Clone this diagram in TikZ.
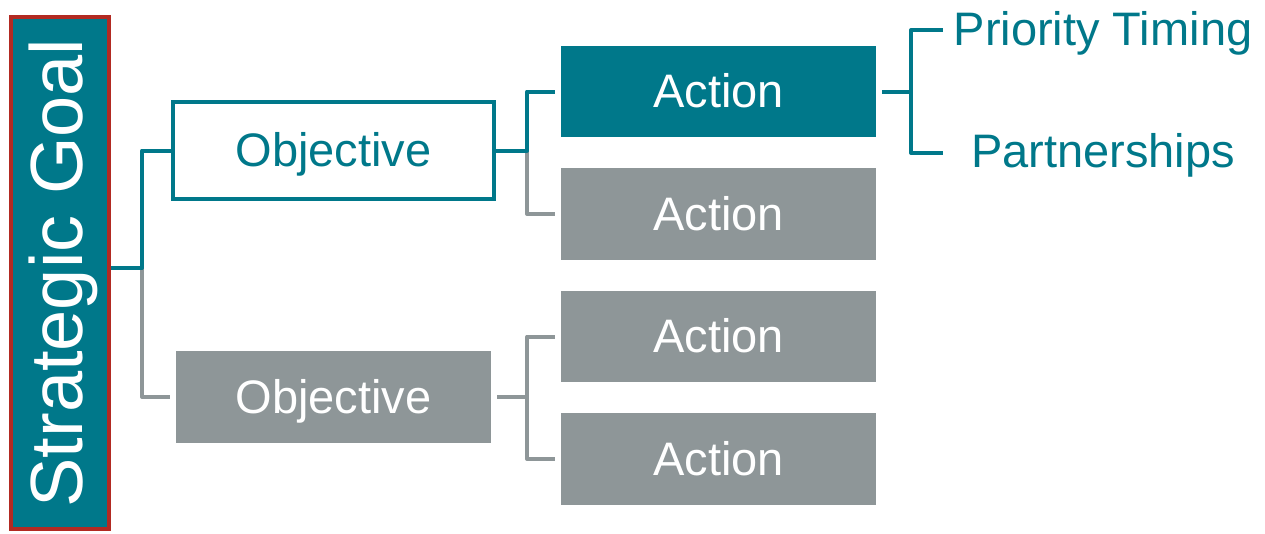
\documentclass[tikz,border=0pt]{standalone}
\usepackage{fontspec}
\setmainfont{Liberation Sans}
\definecolor{goalteal}{RGB}{0,120,138}
\definecolor{boxgray}{RGB}{142,150,152}
\definecolor{goalred}{RGB}{178,42,34}
\begin{document}
\begin{tikzpicture}[x=1pt,y=-1pt,
  box/.style={inner sep=0pt, minimum width=315pt, minimum height=92pt, text depth=2pt, text=white, font=\fontsize{47}{50}\selectfont},
  graybox/.style={box, fill=boxgray},
  tealbox/.style={box, fill=goalteal},
  label/.style={anchor=base, text=goalteal, font=\fontsize{47}{50}\selectfont},
  teal line/.style={draw=goalteal, line width=4pt, line join=round},
  gray line/.style={draw=boxgray, line width=4pt, line join=round}]
\useasboundingbox (0,0) rectangle (1265,533);
% goal
\node[rotate=90, fill=goalteal, draw=goalred, line width=4pt, inner sep=0pt, minimum width=512pt, minimum height=98pt, text depth=8pt, text=white, font=\fontsize{74}{80}\selectfont] (goal) at (60,273) {Strategic Goal};
% objectives
\node[box, draw=goalteal, line width=4pt, fill=white, text=goalteal, minimum width=321pt, minimum height=97pt] (obj1) at (333.5,150.5) {Objective};
\node[graybox] (obj2) at (333.5,397) {Objective};
% actions
\node[tealbox, minimum height=91pt] (act1) at (718.5,91.5) {Action};
\node[graybox] (act2) at (718.5,214) {Action};
\node[graybox, minimum height=91pt] (act3) at (718.5,336.5) {Action};
\node[graybox] (act4) at (718.5,459) {Action};
% labels
\node[label] (prio) at (1103,45) {Priority Timing};
\node[label] (part) at (1103,167) {Partnerships};
% junctions
\coordinate (j1) at (142,268);
\coordinate (j2) at ([xshift=31pt]obj1.east);
\coordinate (j3) at ([xshift=36pt]obj2.east);
\coordinate (j4) at ([xshift=35pt]act1.east);
\coordinate (p1) at (943,30);
\coordinate (p2) at (943,153);
% connectors
\draw[gray line] (j1) |- ([xshift=-6pt]obj2.west);
\draw[teal line] (goal.south |- j1) -- (j1) |- (obj1.west);
\draw[gray line] (j2) |- ([xshift=-6pt]act2.west);
\draw[teal line] (obj1.east) -- (j2) |- ([xshift=-6pt]act1.west);
\draw[gray line] ([xshift=6pt]obj2.east) -- (j3) |- ([xshift=-6pt]act3.west);
\draw[gray line] (j3) |- ([xshift=-6pt]act4.west);
\draw[teal line] ([xshift=6pt]act1.east) -- (j4) |- (p1);
\draw[teal line] (j4) |- (p2);
\end{tikzpicture}
\end{document}
